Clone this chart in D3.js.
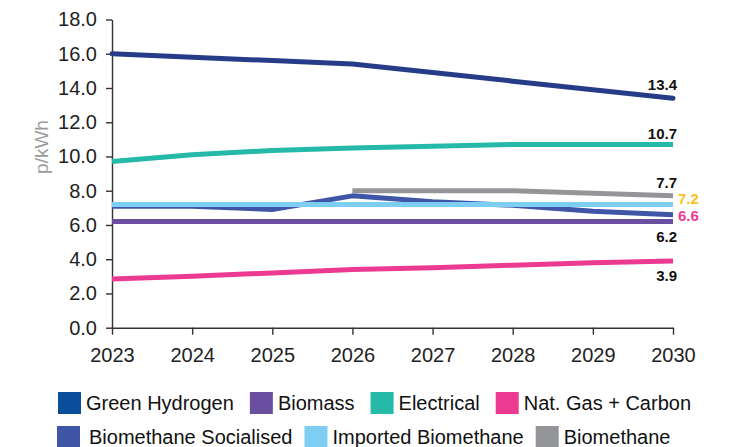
<!DOCTYPE html>
<html>
<head>
<meta charset="utf-8">
<script src="https://cdn.jsdelivr.net/npm/d3@7/dist/d3.min.js"></script>
<style>
  html, body { margin: 0; padding: 0; background: #fff; }
  svg { display: block; font-family: "Liberation Sans", Arial, Helvetica, sans-serif; }
</style>
</head>
<body>
<svg id="chart" width="737" height="447"></svg>
<script>
// Years on the x axis
const years = [2023, 2024, 2025, 2026, 2027, 2028, 2029, 2030];

// Cost per kWh for each heating option (p/kWh)
const greenHydrogen        = [16.0, 15.8, 15.6, 15.4, 14.9, 14.4, 13.9, 13.4];
const biomass              = [6.2, 6.2, 6.2, 6.2, 6.2, 6.2, 6.2, 6.2];
const electrical           = [9.7, 10.1, 10.35, 10.5, 10.6, 10.7, 10.7, 10.7];
const natGasCarbon         = [2.85, 3.0, 3.2, 3.4, 3.5, 3.65, 3.8, 3.9];
const biomethaneSocialised = [7.1, 7.1, 6.9, 7.7, 7.35, 7.15, 6.8, 6.6];
const importedBiomethane   = [7.2, 7.2, 7.2, 7.2, 7.2, 7.2, 7.2, 7.2];
const biomethane           = [null, null, null, 8.0, 8.0, 8.0, 7.85, 7.7];

// Y axis ticks
const yTicks = [0, 2, 4, 6, 8, 10, 12, 14, 16, 18];

const seriesNames = ["Green Hydrogen", "Biomass", "Electrical", "Nat. Gas + Carbon",
                     "Biomethane Socialised", "Imported Biomethane", "Biomethane"];

// Styling per series
const lineColors = {
  "Green Hydrogen": "#263c89",
  "Biomass": "#6a4ea0",
  "Electrical": "#24b9a8",
  "Nat. Gas + Carbon": "#ec3a92",
  "Biomethane Socialised": "#3f56a7",
  "Imported Biomethane": "#7ecdf2",
  "Biomethane": "#949598"
};
const legendColors = Object.assign({}, lineColors, { "Green Hydrogen": "#0b4f9c" });

const valuesByName = {
  "Green Hydrogen": greenHydrogen,
  "Biomass": biomass,
  "Electrical": electrical,
  "Nat. Gas + Carbon": natGasCarbon,
  "Biomethane Socialised": biomethaneSocialised,
  "Imported Biomethane": importedBiomethane,
  "Biomethane": biomethane
};

// End-of-line value labels: placement and colour
const endLabels = {
  "Green Hydrogen":        { anchor: "end",   dx: 4,  dy: -8.5, color: "#111" },
  "Electrical":            { anchor: "end",   dx: 4,  dy: -5.5, color: "#111" },
  "Biomethane":            { anchor: "end",   dx: 4,  dy: -8,   color: "#111" },
  "Imported Biomethane":   { anchor: "start", dx: 5,  dy: -0.8, color: "#fcc21f" },
  "Biomethane Socialised": { anchor: "start", dx: 5,  dy: 6,    color: "#ec3a92" },
  "Biomass":               { anchor: "end",   dx: 4,  dy: 20,   color: "#111" },
  "Nat. Gas + Carbon":     { anchor: "end",   dx: 4,  dy: 20,   color: "#111" }
};

const svg = d3.select("#chart");
const plotLeft = 112, plotRight = 673, plotTop = 19.5, plotBottom = 327.7;

const x = d3.scalePoint().domain(years).range([plotLeft, plotRight]).padding(0);
const y = d3.scaleLinear().domain([0, 18]).range([plotBottom, plotTop]);

// Axes
const yAxis = svg.append("g")
  .attr("transform", `translate(${plotLeft},0)`)
  .call(d3.axisLeft(y).tickValues(yTicks).tickFormat(d3.format(".1f"))
        .tickSize(6).tickSizeOuter(0).tickPadding(9));
const xAxis = svg.append("g")
  .attr("transform", `translate(0,${plotBottom})`)
  .call(d3.axisBottom(x).tickFormat(d3.format("d"))
        .tickSize(7).tickSizeOuter(0).tickPadding(13));

[yAxis, xAxis].forEach(g => {
  g.select(".domain").attr("stroke", "#333").attr("stroke-width", 1.4);
  g.selectAll(".tick line").attr("stroke", "#333").attr("stroke-width", 1.4);
  g.selectAll(".tick text").attr("fill", "#222").style("font-size", "20px")
    .style("font-family", "'Liberation Sans', Arial, sans-serif");
});

// Y axis title
svg.append("text")
  .attr("transform", `translate(48,147) rotate(-90)`)
  .attr("text-anchor", "middle")
  .attr("fill", "#9a9a9a")
  .style("font-size", "19px")
  .text("p/kWh");

// Lines (drawing order keeps the imported line over the socialised one)
const drawOrder = ["Nat. Gas + Carbon", "Biomass", "Biomethane Socialised", "Imported Biomethane",
                   "Biomethane", "Electrical", "Green Hydrogen"];

const line = d3.line()
  .defined(d => d.v != null)
  .x(d => x(d.year))
  .y(d => y(d.v))
  .curve(d3.curveLinear);

drawOrder.forEach(name => {
  const pts = years.map((yr, i) => ({ year: yr, v: valuesByName[name][i] }));
  svg.append("path")
    .datum(pts)
    .attr("fill", "none")
    .attr("stroke", lineColors[name])
    .attr("stroke-width", 5)
    .attr("stroke-linejoin", "round")
    .attr("stroke-linecap", name === "Green Hydrogen" ? "round" : "butt")
    .attr("d", line);
});

// Value labels at the last year
seriesNames.forEach(name => {
  const vals = valuesByName[name];
  const last = vals[vals.length - 1];
  const p = endLabels[name];
  svg.append("text")
    .attr("x", x(years[years.length - 1]) + p.dx)
    .attr("y", y(last) + p.dy)
    .attr("text-anchor", p.anchor)
    .attr("fill", p.color)
    .style("font-size", "15px")
    .style("font-weight", "bold")
    .text(d3.format(".1f")(last));
});

// Legend: two rows of swatches with names
const legendRows = [
  ["Green Hydrogen", "Biomass", "Electrical", "Nat. Gas + Carbon"],
  ["Biomethane Socialised", "Imported Biomethane", "Biomethane"]
];
const rowY = [392, 426];
const rowX = [58, 57];
const rowGap = [16, 12];
legendRows.forEach((row, r) => {
  let cx = rowX[r];
  row.forEach(name => {
    const textOffset = (r === 1 && name === "Biomethane Socialised") ? 32 : 28;
    const g = svg.append("g").attr("transform", `translate(${cx},${rowY[r]})`);
    g.append("rect").attr("width", 23).attr("height", 22).attr("fill", legendColors[name]);
    const t = g.append("text")
      .attr("x", textOffset)
      .attr("y", 18)
      .attr("fill", "#111")
      .style("font-size", "20px")
      .text(name);
    const w = t.node().getComputedTextLength();
    cx += textOffset + w + rowGap[r];
  });
});
</script>
</body>
</html>
